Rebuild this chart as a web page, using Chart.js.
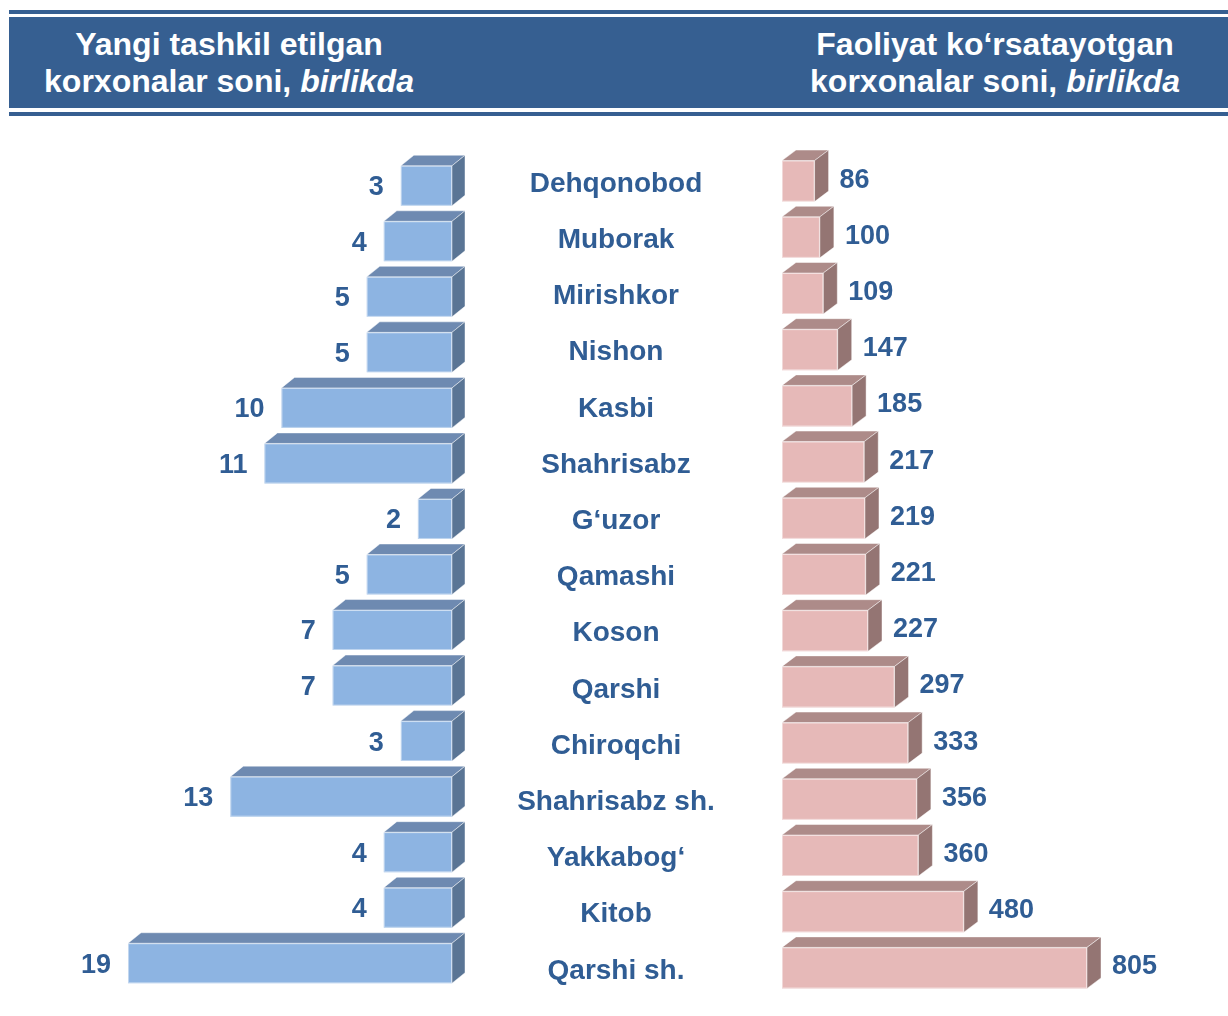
<!DOCTYPE html>
<html>
<head>
<meta charset="utf-8">
<script src="https://cdn.jsdelivr.net/npm/chart.js@4.4.1/dist/chart.umd.min.js"></script>
<style>
  body { margin: 0; background: #fff; font-family: "Liberation Sans", Arial, sans-serif; }
  #page { position: relative; width: 1228px; height: 1016px; overflow: hidden; }
  .rule { position: absolute; left: 9px; right: 0; background: #365F91; }
  .head { position: absolute; top: 26px; color: #fff; font-weight: bold; font-size: 32px;
          line-height: 37px; text-align: center; white-space: nowrap; }
  .head i { font-style: italic; }
  canvas { position: absolute; left: 0; top: 120px; }
</style>
</head>
<body>
<div id="page">
  <div class="rule" style="top:10px;height:4px"></div>
  <div class="rule" style="top:17px;height:91px"></div>
  <div class="rule" style="top:112px;height:4px"></div>
  <div class="head" style="left:29px;width:400px">Yangi tashkil etilgan<br>korxonalar soni, <i>birlikda</i></div>
  <div class="head" style="left:795px;width:400px">Faoliyat ko‘rsatayotgan<br>korxonalar soni, <i>birlikda</i></div>
  <canvas id="left" width="1228" height="896"></canvas>
  <canvas id="right" width="1228" height="896"></canvas>
</div>
<script>
const categories = ['Dehqonobod', 'Muborak', 'Mirishkor', 'Nishon', 'Kasbi', 'Shahrisabz', 'G‘uzor',
  'Qamashi', 'Koson', 'Qarshi', 'Chiroqchi', 'Shahrisabz sh.', 'Yakkabog‘', 'Kitob', 'Qarshi sh.'];
const newFirms = [3, 4, 5, 5, 10, 11, 2, 5, 7, 7, 3, 13, 4, 4, 19];
const activeFirms = [86, 100, 109, 147, 185, 217, 219, 221, 227, 297, 333, 356, 360, 480, 805];

const TEXT = '#305D94';
const VALUE_FONT = 'bold 27px "Liberation Sans", Arial, sans-serif';
const NAME_FONT = 'bold 28px "Liberation Sans", Arial, sans-serif';

// top + side faces on every bar so it reads as a box
function box3d(dx, dy, topColor, sideColor) {
  return {
    id: 'box3d',
    afterDatasetsDraw(chart) {
      const ctx = chart.ctx;
      chart.getDatasetMeta(0).data.forEach(el => {
        const p = el.getProps(['x', 'y', 'base', 'height'], true);
        const l = Math.min(p.x, p.base), r = Math.max(p.x, p.base);
        const t = p.y - p.height / 2, b = p.y + p.height / 2;
        ctx.save();
        ctx.strokeStyle = 'rgba(255,255,255,0.45)';
        ctx.lineWidth = 1;
        ctx.fillStyle = topColor;
        ctx.beginPath();
        ctx.moveTo(l, t); ctx.lineTo(l + dx, t - dy); ctx.lineTo(r + dx, t - dy); ctx.lineTo(r, t);
        ctx.closePath(); ctx.fill(); ctx.stroke();
        ctx.fillStyle = sideColor;
        ctx.beginPath();
        ctx.moveTo(r, t); ctx.lineTo(r + dx, t - dy); ctx.lineTo(r + dx, b - dy); ctx.lineTo(r, b);
        ctx.closePath(); ctx.fill(); ctx.stroke();
        ctx.strokeRect(l + 0.5, t + 0.5, r - l - 1, b - t - 1);
        ctx.restore();
      });
    }
  };
}

// value next to the free end of each bar
function valueLabels(side, gap, dy) {
  return {
    id: 'valueLabels',
    afterDraw(chart) {
      const ctx = chart.ctx;
      const values = chart.data.datasets[0].data;
      ctx.save();
      ctx.font = VALUE_FONT;
      ctx.fillStyle = TEXT;
      ctx.textBaseline = 'middle';
      chart.getDatasetMeta(0).data.forEach((el, i) => {
        const p = el.getProps(['x', 'y'], true);
        if (side === 'left') {
          ctx.textAlign = 'right';
          ctx.fillText(values[i], p.x - gap, p.y + dy);
        } else {
          ctx.textAlign = 'left';
          ctx.fillText(values[i], p.x + gap, p.y + dy);
        }
      });
      ctx.restore();
    }
  };
}

// district names down the middle, placed on the category scale
const districtNames = {
  id: 'districtNames',
  afterDraw(chart) {
    const ctx = chart.ctx;
    const y = chart.scales.y;
    ctx.save();
    ctx.font = NAME_FONT;
    ctx.fillStyle = TEXT;
    ctx.textAlign = 'center';
    ctx.textBaseline = 'middle';
    categories.forEach((c, i) => ctx.fillText(c, 616, y.getPixelForValue(i) + 3));
    ctx.restore();
  }
};

function baseOptions(padding, x) {
  return {
    indexAxis: 'y',
    responsive: false,
    animation: false,
    devicePixelRatio: 1,
    layout: { padding },
    scales: { x: Object.assign({ display: false }, x), y: { display: false } },
    plugins: { legend: { display: false }, tooltip: { enabled: false } }
  };
}

new Chart(document.getElementById('left'), {
  type: 'bar',
  data: {
    labels: categories,
    datasets: [{ data: newFirms, backgroundColor: '#8DB4E2', borderWidth: 0, barPercentage: 0.72, categoryPercentage: 1 }]
  },
  options: baseOptions({ left: 111, right: 776, top: 38, bottom: 25 }, { min: 0, max: 20, reverse: true }),
  plugins: [box3d(13, 10.5, '#6E8AB1', '#5A7595'), valueLabels('left', 17, 2)]
});

new Chart(document.getElementById('right'), {
  type: 'bar',
  data: {
    labels: categories,
    datasets: [{ data: activeFirms, backgroundColor: '#E6B9B8', borderWidth: 0, barPercentage: 0.73, categoryPercentage: 1 }]
  },
  options: baseOptions({ left: 782, right: 105, top: 33, bottom: 20 }, { min: 0, max: 900 }),
  plugins: [box3d(14, 10.5, '#AD8B89', '#947573'), valueLabels('right', 25, -1), districtNames]
});
</script>
</body>
</html>
